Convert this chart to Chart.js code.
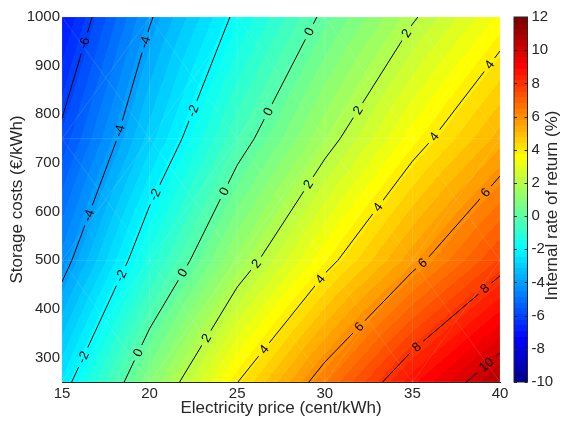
<!DOCTYPE html>
<html><head><meta charset="utf-8">
<script src="https://cdn.jsdelivr.net/npm/chart.js@4/dist/chart.umd.min.js"></script>
<style>html,body{margin:0;padding:0;background:#fff;}canvas{display:block;}</style>
</head><body>
<canvas id="c" width="564" height="421"></canvas>
<script>
// ---- data ----
const electricityPrice = [15, 20, 25, 30, 35, 40];          // cent/kWh (grid columns)
const storageCosts = [250, 500, 750, 1000];                  // EUR/kWh (grid rows)
// Internal rate of return (%) at each grid node, one array per storage-cost row
const irr250  = [-2.37,  0.97,  3.98, 6.45, 8.80, 10.75];
const irr500  = [-4.35, -1.24,  1.44, 3.70, 5.71,  7.60];
const irr750  = [-5.80, -2.94, -0.40, 1.66, 3.61,  5.29];
const irr1000 = [-7.00, -4.09, -1.81, 0.18, 1.90,  3.50];
const contourLevels = [-10, -8, -6, -4, -2, 0, 2, 4, 6, 8, 10];
const xTicks = [15, 20, 25, 30, 35, 40];
const yTicks = [300, 400, 500, 600, 700, 800, 900, 1000];
const colorTicks = [-10, -8, -6, -4, -2, 0, 2, 4, 6, 8, 10, 12];
// contour label positions (approximate, in data units)
const labelLevel = [-6, -4, -4, -4, -2, -2, -2, -2, 0, 0, 0, 0, 0, 2, 2, 2, 2, 2, 4, 4, 4, 4, 4, 6, 6, 6, 8, 8, 10];
const labelX = [16.31, 19.74, 18.2, 16.54, 22.42, 20.2, 18.31, 16.31, 29.16, 26.64, 24.13, 21.85, 19.28,
                34.69, 31.9, 29.0, 26.0, 23.16, 39.43, 36.29, 33.04, 29.84, 26.59, 39.03, 35.6, 32.0, 39.14, 35.26, 39.26];
const labelY = [946, 948, 767, 592, 808, 637, 469, 299, 969, 808, 644, 475, 311,
                966, 808, 658, 496, 342, 901, 753, 609, 459, 315, 644, 494, 362, 442, 321, 284];

const FONT = '"Liberation Sans", Arial, Helvetica, sans-serif';
const TXT = '#262626';
const CMIN = -10, CMAX = 12, NCOL = 64;

function jet(idx) { // MATLAB jet(64), idx 1..64
  const t = idx / 16;
  const f = k => Math.max(0, Math.min(1, 1.5 - Math.abs(t - k)));
  return [Math.round(f(3) * 255), Math.round(f(2) * 255), Math.round(f(1) * 255)];
}
function colorIndex(z) {
  return Math.max(1, Math.min(NCOL, Math.floor((z - CMIN) / (CMAX - CMIN) * NCOL) + 1));
}

const fieldPlugin = {
  id: 'field',
  beforeDatasetsDraw(chart) {
    const { ctx, chartArea: a, scales } = chart;
    const sx = scales.x, sy = scales.y, cb = scales.cb;
    const Z = [irr250, irr500, irr750, irr1000];
    const nx = electricityPrice.length, ny = storageCosts.length;
    const cell = (arr, v) => { for (let i = 0; i < arr.length - 2; i++) if (v < arr[i + 1]) return i; return arr.length - 2; };
    function zAt(xv, yv) {
      const i = cell(electricityPrice, xv), j = cell(storageCosts, yv);
      const u = (xv - electricityPrice[i]) / (electricityPrice[i + 1] - electricityPrice[i]);
      const v = (yv - storageCosts[j]) / (storageCosts[j + 1] - storageCosts[j]);
      const z00 = Z[j][i], z10 = Z[j][i + 1], z01 = Z[j + 1][i], z11 = Z[j + 1][i + 1];
      const zc = (z00 + z10 + z01 + z11) / 4;
      if (v <= u && v <= 1 - u) return z00 * (1 - u - v) + z10 * (u - v) + zc * 2 * v;
      if (v >= u && v >= 1 - u) return z01 * (v - u) + z11 * (u + v - 1) + zc * (2 - 2 * v);
      if (u <= v && u <= 1 - v) return z00 * (1 - v - u) + z01 * (v - u) + zc * 2 * u;
      return z10 * (u - v) + z11 * (u + v - 1) + zc * (2 - 2 * u);
    }
    // filled field
    const x0 = Math.round(a.left), y0 = Math.round(a.top);
    const w = Math.round(a.right) - x0, h = Math.round(a.bottom) - y0;
    const off = document.createElement('canvas');
    off.width = w; off.height = h;
    const octx = off.getContext('2d');
    const img = octx.createImageData(w, h);
    const xs = [], ys = [];
    for (let px = 0; px < w; px++) xs.push(Math.min(40, Math.max(15, sx.getValueForPixel(x0 + px + 0.5))));
    for (let py = 0; py < h; py++) ys.push(Math.min(1000, Math.max(250, sy.getValueForPixel(y0 + py + 0.5))));
    for (let py = 0; py < h; py++) {
      for (let px = 0; px < w; px++) {
        const c = jet(colorIndex(zAt(xs[px], ys[py])));
        const k = (py * w + px) * 4;
        img.data[k] = c[0]; img.data[k + 1] = c[1]; img.data[k + 2] = c[2]; img.data[k + 3] = 255;
      }
    }
    octx.putImageData(img, 0, 0);
    ctx.drawImage(off, x0, y0);

    ctx.save();
    ctx.beginPath(); ctx.rect(a.left, a.top, a.right - a.left, a.bottom - a.top); ctx.clip();
    // faint mesh seams
    ctx.strokeStyle = 'rgba(255,255,255,0.22)'; ctx.lineWidth = 0.6;
    ctx.beginPath();
    electricityPrice.forEach(v => { const p = sx.getPixelForValue(v); ctx.moveTo(p, a.top); ctx.lineTo(p, a.bottom); });
    storageCosts.forEach(v => { const p = sy.getPixelForValue(v); ctx.moveTo(a.left, p); ctx.lineTo(a.right, p); });
    for (let i = 0; i < nx - 1; i++) for (let j = 0; j < ny - 1; j++) {
      const xa = sx.getPixelForValue(electricityPrice[i]), xb = sx.getPixelForValue(electricityPrice[i + 1]);
      const ya = sy.getPixelForValue(storageCosts[j]), yb = sy.getPixelForValue(storageCosts[j + 1]);
      ctx.moveTo(xa, ya); ctx.lineTo(xb, yb); ctx.moveTo(xa, yb); ctx.lineTo(xb, ya);
    }
    ctx.stroke();
    ctx.restore();

    // contour segments (marching squares)
    const segs = {};
    contourLevels.forEach(L => {
      const arr = [];
      for (let j = 0; j < ny - 1; j++) for (let i = 0; i < nx - 1; i++) {
        const P = [[electricityPrice[i], storageCosts[j], Z[j][i]], [electricityPrice[i + 1], storageCosts[j], Z[j][i + 1]],
                   [electricityPrice[i + 1], storageCosts[j + 1], Z[j + 1][i + 1]], [electricityPrice[i], storageCosts[j + 1], Z[j + 1][i]]];
        const pts = [];
        for (let e = 0; e < 4; e++) {
          const A = P[e], B = P[(e + 1) % 4];
          if ((A[2] - L) * (B[2] - L) < 0) {
            const t = (L - A[2]) / (B[2] - A[2]);
            pts.push([sx.getPixelForValue(A[0] + t * (B[0] - A[0])), sy.getPixelForValue(A[1] + t * (B[1] - A[1]))]);
          }
        }
        if (pts.length >= 2) arr.push([pts[0], pts[1]]);
        if (pts.length === 4) arr.push([pts[2], pts[3]]);
      }
      segs[L] = arr;
    });

    // labels snapped onto their contour
    const LFONT = '13px ' + FONT;
    ctx.font = LFONT;
    const placed = [];
    labelLevel.forEach((L, k) => {
      const px = sx.getPixelForValue(labelX[k]), py = sy.getPixelForValue(labelY[k]);
      let best = null, bd = Infinity;
      (segs[L] || []).forEach(s => {
        const [p, q] = s; const dx = q[0] - p[0], dy = q[1] - p[1];
        let t = ((px - p[0]) * dx + (py - p[1]) * dy) / (dx * dx + dy * dy);
        t = Math.max(0, Math.min(1, t));
        const cx = p[0] + t * dx, cy = p[1] + t * dy;
        const d = (cx - px) ** 2 + (cy - py) ** 2;
        if (d < bd) { bd = d; let ang = Math.atan2(dy, dx); if (ang > Math.PI / 2) ang -= Math.PI; if (ang <= -Math.PI / 2) ang += Math.PI; best = { x: cx, y: cy, ang }; }
      });
      if (!best) return;
      const text = String(L);
      best.text = text; best.w = ctx.measureText(text).width;
      placed.push(best);
    });

    ctx.save();
    ctx.beginPath();
    ctx.rect(a.left, a.top, a.right - a.left, a.bottom - a.top);
    placed.forEach(p => {
      const hw = p.w / 2 + 5, hh = 7;
      const c = Math.cos(p.ang), s = Math.sin(p.ang);
      const corners = [[-hw, -hh], [hw, -hh], [hw, hh], [-hw, hh]].map(([u, v]) => [p.x + u * c - v * s, p.y + u * s + v * c]);
      ctx.moveTo(corners[0][0], corners[0][1]);
      for (let m = 1; m < 4; m++) ctx.lineTo(corners[m][0], corners[m][1]);
      ctx.closePath();
    });
    ctx.clip('evenodd');
    ctx.strokeStyle = '#000'; ctx.lineWidth = 1;
    ctx.beginPath();
    Object.values(segs).forEach(arr => arr.forEach(([p, q]) => { ctx.moveTo(p[0], p[1]); ctx.lineTo(q[0], q[1]); }));
    ctx.stroke();
    ctx.restore();

    ctx.save();
    ctx.fillStyle = '#000'; ctx.font = LFONT; ctx.textAlign = 'center'; ctx.textBaseline = 'middle';
    placed.forEach(p => { ctx.save(); ctx.translate(p.x, p.y); ctx.rotate(p.ang); ctx.fillText(p.text, 0, 0.5); ctx.restore(); });
    ctx.restore();

    // colour bar
    const bx0 = a.right + 14, bx1 = a.right + 27.5;
    for (let k = 0; k < NCOL; k++) {
      const v0 = CMIN + k * (CMAX - CMIN) / NCOL, v1 = v0 + (CMAX - CMIN) / NCOL;
      const ya = cb.getPixelForValue(v1), yb = cb.getPixelForValue(v0);
      const c = jet(k + 1);
      ctx.fillStyle = `rgb(${c[0]},${c[1]},${c[2]})`;
      ctx.fillRect(bx0, Math.floor(ya), bx1 - bx0, Math.ceil(yb) - Math.floor(ya));
    }
    ctx.strokeStyle = TXT; ctx.lineWidth = 1;
    ctx.strokeRect(bx0, cb.getPixelForValue(CMAX), bx1 - bx0, cb.getPixelForValue(CMIN) - cb.getPixelForValue(CMAX));
    ctx.beginPath();
    colorTicks.forEach(v => { const p = Math.round(cb.getPixelForValue(v)) + 0.5; ctx.moveTo(bx1, p); ctx.lineTo(bx1 - 3, p); ctx.moveTo(bx0, p); ctx.lineTo(bx0 + 3, p); });
    ctx.stroke();
    ctx.fillStyle = TXT; ctx.font = '15px ' + FONT; ctx.textAlign = 'left'; ctx.textBaseline = 'middle';
    colorTicks.forEach(v => ctx.fillText(String(v), a.right + 31.5, cb.getPixelForValue(v)));
    ctx.save();
    ctx.fillStyle = TXT; ctx.font = '17px ' + FONT; ctx.textAlign = 'center'; ctx.textBaseline = 'middle';
    ctx.translate(a.right + 52, (a.top + a.bottom) / 2 + 6);
    ctx.rotate(-Math.PI / 2);
    ctx.fillText('Internal rate of return (%)', 0, 0);
    ctx.restore();
  }
};

const nodes = [];
storageCosts.forEach(y => electricityPrice.forEach(x => nodes.push({ x, y })));
const plain = v => String(v);

new Chart(document.getElementById('c'), {
  type: 'scatter',
  data: { datasets: [{ data: nodes, pointRadius: 0, showLine: false, xAxisID: 'x', yAxisID: 'y' }] },
  options: {
    responsive: false, animation: false, devicePixelRatio: 1,
    layout: { autoPadding: false, padding: { top: 17, left: 0, right: 0, bottom: 0 } },
    plugins: { legend: { display: false }, tooltip: { enabled: false } },
    scales: {
      x: {
        type: 'linear', min: 15, max: 40, z: 1,
        afterBuildTicks: s => { s.ticks = xTicks.map(v => ({ value: v })); },
        ticks: { font: { size: 15, family: FONT }, color: TXT, padding: 3, maxRotation: 0, autoSkip: false, callback: plain },
        grid: { display: false, drawTicks: false },
        border: { display: true, color: TXT, width: 1 },
        title: { display: true, text: 'Electricity price (cent/kWh)', font: { size: 17, family: FONT }, color: TXT, padding: { top: 0, bottom: 2 } },
        afterFit: s => { s.height = 39; }
      },
      y: {
        type: 'linear', min: 250, max: 1000, position: 'left', z: 1,
        afterBuildTicks: s => { s.ticks = yTicks.map(v => ({ value: v })); },
        ticks: { font: { size: 15, family: FONT }, color: TXT, padding: 2, autoSkip: false, callback: plain },
        grid: { display: false, drawTicks: false },
        border: { display: true, color: TXT, width: 1 },
        title: { display: true, text: 'Storage costs (€/kWh)', font: { size: 17, family: FONT }, color: TXT, padding: { top: 7, bottom: 0 } },
        afterFit: s => { s.width = 62; }
      },
      cb: {
        type: 'linear', min: CMIN, max: CMAX, position: 'right', axis: 'y',
        ticks: { display: false },
        grid: { display: false, drawTicks: false },
        border: { display: false },
        afterFit: s => { s.width = 64; }
      }
    }
  },
  plugins: [fieldPlugin]
});
</script>
</body></html>
